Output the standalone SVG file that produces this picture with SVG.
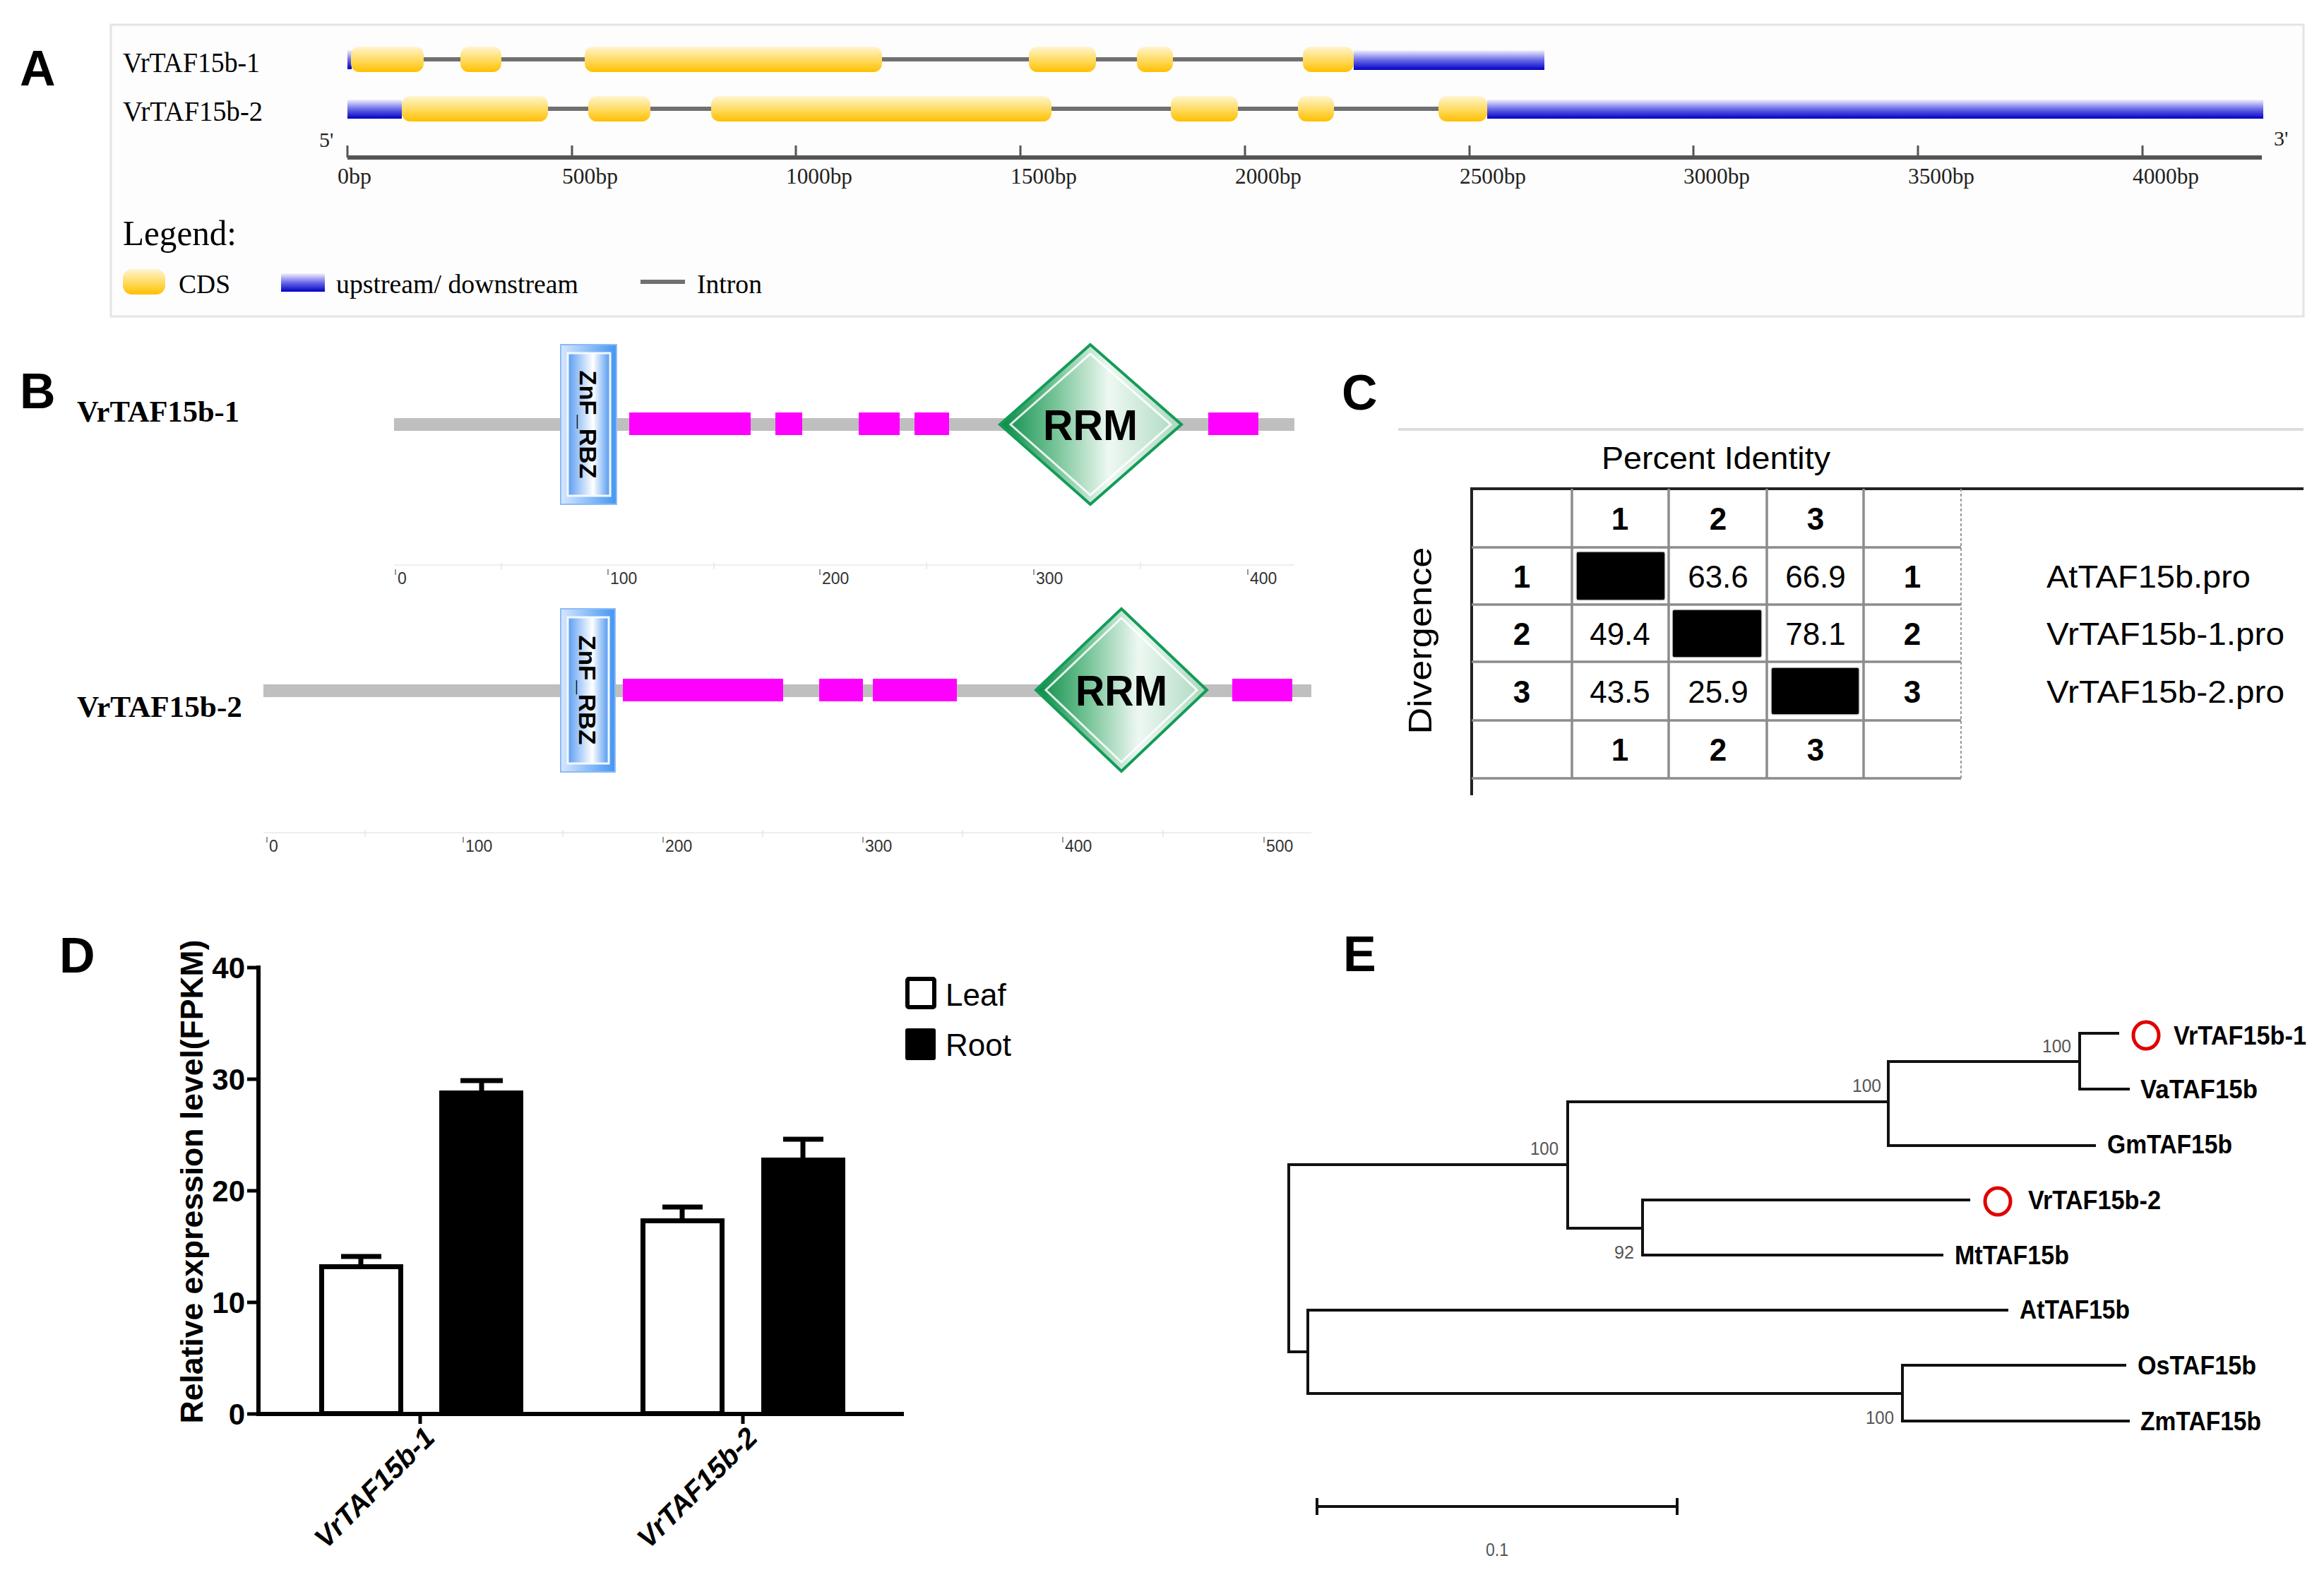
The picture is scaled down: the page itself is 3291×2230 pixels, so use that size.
<svg xmlns="http://www.w3.org/2000/svg" width="3291" height="2230" viewBox="0 0 3291 2230">
<defs>
  <linearGradient id="cds" x1="0" y1="0" x2="0" y2="1">
    <stop offset="0" stop-color="#fff5d0"/>
    <stop offset="0.55" stop-color="#ffda5c"/>
    <stop offset="1" stop-color="#ffbf00"/>
  </linearGradient>
  <linearGradient id="utr" x1="0" y1="0" x2="0" y2="1">
    <stop offset="0" stop-color="#f2f2ff"/>
    <stop offset="0.5" stop-color="#6a6ae8"/>
    <stop offset="1" stop-color="#0000c4"/>
  </linearGradient>
  <linearGradient id="znfOuter" x1="0" y1="0" x2="1" y2="0">
    <stop offset="0" stop-color="#d6e7ff"/>
    <stop offset="1" stop-color="#4596f2"/>
  </linearGradient>
  <linearGradient id="znfInner" x1="0" y1="0" x2="1" y2="0">
    <stop offset="0" stop-color="#5a9df2"/>
    <stop offset="0.6" stop-color="#ffffff"/>
    <stop offset="1" stop-color="#5098f0"/>
  </linearGradient>
  <linearGradient id="rrm" x1="0" y1="0.5" x2="1" y2="0.5">
    <stop offset="0" stop-color="#078a45"/>
    <stop offset="0.3" stop-color="#74c396"/>
    <stop offset="0.6" stop-color="#eef8f2"/>
    <stop offset="1" stop-color="#a9d8bd"/>
  </linearGradient>
  <style>
    .sans{font-family:"Liberation Sans",Arial,sans-serif}
    .ser{font-family:"Liberation Serif","Times New Roman",serif}
    .plab{font-family:"Liberation Sans",Arial,sans-serif;font-weight:bold;font-size:70px;fill:#000}
    .intron{stroke:#707070;stroke-width:6;fill:none}
    .axisA{stroke:#555;stroke-width:3;fill:none}
    .ticklabA{font-family:"Liberation Serif","Times New Roman",serif;font-size:32px;fill:#222}
    .bb{fill:#bfbfbf}
    .mag{fill:#ff00ff}
    .bscale{font-family:"Liberation Sans",Arial,sans-serif;font-size:23px;fill:#333}
    .btick{stroke:#777;stroke-width:1.5}
    .grid{stroke:#8c8c8c;stroke-width:3.5;fill:none}
    .cnum{font-family:"Liberation Sans",Arial,sans-serif;font-size:44px;text-anchor:middle;fill:#000}
    .blk{fill:#000;stroke:#ddd;stroke-width:1.5}
    .tree{stroke:#111;stroke-width:4;fill:none;stroke-linecap:square}
    .leaf{font-family:"Liberation Sans",Arial,sans-serif;font-weight:bold;font-size:37px;fill:#000}
    .boot{font-family:"Liberation Sans",Arial,sans-serif;font-size:26px;fill:#555}
    .ax{stroke:#000;stroke-width:6;fill:none}
    .bar{stroke:#000;stroke-width:7}
  </style>
</defs>
<rect width="3291" height="2230" fill="#fff"/>

<!-- Panel A -->
<g id="panelA">
  <rect x="157" y="35" width="3105" height="413" fill="#fdfdfd" stroke="#e4e4e4" stroke-width="3"/>
  <text class="plab" x="28" y="121">A</text>
  <g id="geneA1">
    <text class="ser" x="174" y="102" font-size="40" textLength="194" lengthAdjust="spacingAndGlyphs">VrTAF15b-1</text>
    <line class="intron" x1="497" y1="84" x2="1917" y2="84"/>
    <rect x="492" y="71" width="6" height="27" fill="url(#utr)"/>
    <rect x="497" y="66" width="103" height="36" rx="12" fill="url(#cds)"/>
    <rect x="652" y="66" width="58" height="36" rx="12" fill="url(#cds)"/>
    <rect x="828" y="66" width="421" height="36" rx="12" fill="url(#cds)"/>
    <rect x="1457" y="66" width="95" height="36" rx="12" fill="url(#cds)"/>
    <rect x="1610" y="66" width="51" height="36" rx="12" fill="url(#cds)"/>
    <rect x="1845" y="66" width="72" height="36" rx="12" fill="url(#cds)"/>
    <rect x="1917" y="71" width="270" height="28" fill="url(#utr)"/>
  </g>
  <g id="geneA2">
    <text class="ser" x="174" y="171" font-size="40" textLength="198" lengthAdjust="spacingAndGlyphs">VrTAF15b-2</text>
    <line class="intron" x1="569" y1="154" x2="2106" y2="154"/>
    <rect x="492" y="141" width="77" height="27" fill="url(#utr)"/>
    <rect x="569" y="136" width="207" height="36" rx="12" fill="url(#cds)"/>
    <rect x="833" y="136" width="88" height="36" rx="12" fill="url(#cds)"/>
    <rect x="1007" y="136" width="482" height="36" rx="12" fill="url(#cds)"/>
    <rect x="1658" y="136" width="95" height="36" rx="12" fill="url(#cds)"/>
    <rect x="1838" y="136" width="51" height="36" rx="12" fill="url(#cds)"/>
    <rect x="2037" y="136" width="69" height="36" rx="12" fill="url(#cds)"/>
    <rect x="2106" y="141" width="1099" height="27" fill="url(#utr)"/>
  </g>
  <g id="axisA">
    <line x1="492" y1="223" x2="3203" y2="223" stroke="#555" stroke-width="6"/>
    <path class="axisA" d="M492,206V223 M810,206V223 M1127,206V223 M1445,206V223 M1763,206V223 M2081,206V223 M2398,206V223 M2716,206V223 M3034,206V223"/>
    <text class="ticklabA" x="478" y="260" textLength="48" lengthAdjust="spacingAndGlyphs">0bp</text>
    <text class="ticklabA" x="796" y="260" textLength="79" lengthAdjust="spacingAndGlyphs">500bp</text>
    <text class="ticklabA" x="1113" y="260" textLength="94" lengthAdjust="spacingAndGlyphs">1000bp</text>
    <text class="ticklabA" x="1431" y="260" textLength="94" lengthAdjust="spacingAndGlyphs">1500bp</text>
    <text class="ticklabA" x="1749" y="260" textLength="94" lengthAdjust="spacingAndGlyphs">2000bp</text>
    <text class="ticklabA" x="2067" y="260" textLength="94" lengthAdjust="spacingAndGlyphs">2500bp</text>
    <text class="ticklabA" x="2384" y="260" textLength="94" lengthAdjust="spacingAndGlyphs">3000bp</text>
    <text class="ticklabA" x="2702" y="260" textLength="94" lengthAdjust="spacingAndGlyphs">3500bp</text>
    <text class="ticklabA" x="3020" y="260" textLength="94" lengthAdjust="spacingAndGlyphs">4000bp</text>
    <text class="ser" x="452" y="208" font-size="30" fill="#222">5'</text>
    <text class="ser" x="3220" y="206" font-size="30" fill="#222">3'</text>
  </g>
  <g id="legendA">
    <text class="ser" x="174" y="347" font-size="50" textLength="161" lengthAdjust="spacingAndGlyphs">Legend:</text>
    <rect x="174" y="381" width="60" height="36" rx="13" fill="url(#cds)"/>
    <text class="ser" x="253" y="415" font-size="38" textLength="73" lengthAdjust="spacingAndGlyphs">CDS</text>
    <rect x="398" y="387" width="62" height="26" fill="url(#utr)"/>
    <text class="ser" x="476" y="415" font-size="38" textLength="343" lengthAdjust="spacingAndGlyphs">upstream/ downstream</text>
    <line class="intron" x1="907" y1="399" x2="970" y2="399"/>
    <text class="ser" x="987" y="415" font-size="38" textLength="92" lengthAdjust="spacingAndGlyphs">Intron</text>
  </g>
</g>

<!-- Panel B -->
<g id="panelB">
  <text class="plab" x="28" y="578">B</text>
  <g id="protB1">
    <text class="ser" x="109" y="597" font-size="42" font-weight="bold" textLength="230" lengthAdjust="spacingAndGlyphs">VrTAF15b-1</text>
    <rect class="bb" x="558" y="592" width="1275" height="18"/>
    <rect class="mag" x="891" y="584" width="172" height="32"/>
    <rect class="mag" x="1098" y="584" width="38" height="32"/>
    <rect class="mag" x="1216" y="584" width="58" height="32"/>
    <rect class="mag" x="1295" y="584" width="49" height="32"/>
    <rect class="mag" x="1711" y="584" width="71" height="32"/>
    <g id="znf1">
      <rect x="794" y="488" width="79" height="226" fill="url(#znfOuter)" stroke="#8dbbf5" stroke-width="2"/>
      <rect x="804" y="500" width="60" height="202" fill="url(#znfInner)" stroke="#f4f8ff" stroke-width="3"/>
      <text class="sans" transform="translate(833,601) rotate(90)" text-anchor="middle" dominant-baseline="central" font-size="34" font-weight="bold" textLength="153" lengthAdjust="spacingAndGlyphs">ZnF_RBZ</text>
    </g>
    <g id="rrm1">
      <polygon points="1544,488 1673,601 1544,714 1416,601" fill="url(#rrm)" stroke="#139c58" stroke-width="4"/>
      <polygon points="1544,501 1658,601 1544,701 1431,601" fill="none" stroke="#ffffff" stroke-width="3" opacity="0.85"/>
      <text class="sans" x="1544" y="623" text-anchor="middle" font-size="62" font-weight="bold" textLength="134" lengthAdjust="spacingAndGlyphs">RRM</text>
    </g>
    <g id="scaleB1">
      <line x1="558" y1="800" x2="1833" y2="800" stroke="#eeeeee" stroke-width="2"/>
      <path class="btick" d="M560,806V814 M861,806V814 M1161,806V814 M1464,806V814 M1767,806V814"/>
      <path stroke="#e6e6e6" stroke-width="1.5" d="M710,796V806 M1011,796V806 M1312,796V806 M1615,796V806"/>
      <text class="bscale" x="563" y="827">0</text>
      <text class="bscale" x="864" y="827">100</text>
      <text class="bscale" x="1164" y="827">200</text>
      <text class="bscale" x="1467" y="827">300</text>
      <text class="bscale" x="1770" y="827">400</text>
    </g>
  </g>
  <g id="protB2">
    <text class="ser" x="109" y="1015" font-size="42" font-weight="bold" textLength="234" lengthAdjust="spacingAndGlyphs">VrTAF15b-2</text>
    <rect class="bb" x="373" y="969" width="1484" height="18"/>
    <rect class="mag" x="882" y="961" width="227" height="32"/>
    <rect class="mag" x="1160" y="961" width="62" height="32"/>
    <rect class="mag" x="1236" y="961" width="119" height="32"/>
    <rect class="mag" x="1745" y="961" width="85" height="32"/>
    <g id="znf2">
      <rect x="794" y="862" width="77" height="231" fill="url(#znfOuter)" stroke="#8dbbf5" stroke-width="2"/>
      <rect x="804" y="874" width="58" height="207" fill="url(#znfInner)" stroke="#f4f8ff" stroke-width="3"/>
      <text class="sans" transform="translate(832,977) rotate(90)" text-anchor="middle" dominant-baseline="central" font-size="34" font-weight="bold" textLength="155" lengthAdjust="spacingAndGlyphs">ZnF_RBZ</text>
    </g>
    <g id="rrm2">
      <polygon points="1588,862 1709,977 1588,1092 1467,977" fill="url(#rrm)" stroke="#139c58" stroke-width="4"/>
      <polygon points="1588,875 1695,977 1588,1079 1481,977" fill="none" stroke="#ffffff" stroke-width="3" opacity="0.85"/>
      <text class="sans" x="1588" y="999" text-anchor="middle" font-size="62" font-weight="bold" textLength="130" lengthAdjust="spacingAndGlyphs">RRM</text>
    </g>
    <g id="scaleB2">
      <line x1="373" y1="1179" x2="1857" y2="1179" stroke="#eeeeee" stroke-width="2"/>
      <path class="btick" d="M378,1185V1193 M656,1185V1193 M939,1185V1193 M1222,1185V1193 M1505,1185V1193 M1790,1185V1193"/>
      <path stroke="#e6e6e6" stroke-width="1.5" d="M517,1175V1185 M797,1175V1185 M1080,1175V1185 M1363,1175V1185 M1647,1175V1185"/>
      <text class="bscale" x="381" y="1206">0</text>
      <text class="bscale" x="659" y="1206">100</text>
      <text class="bscale" x="942" y="1206">200</text>
      <text class="bscale" x="1225" y="1206">300</text>
      <text class="bscale" x="1508" y="1206">400</text>
      <text class="bscale" x="1793" y="1206">500</text>
    </g>
  </g>
</g>

<!-- Panel C -->
<g id="panelC">
  <text class="plab" x="1900" y="580">C</text>
  <line x1="1980" y1="608" x2="3262" y2="608" stroke="#dddddd" stroke-width="4"/>
  <text class="sans" x="2268" y="664" font-size="45" textLength="324" lengthAdjust="spacingAndGlyphs">Percent Identity</text>
  <line x1="2082" y1="692" x2="3262" y2="692" stroke="#222" stroke-width="4"/>
  <line x1="2084" y1="690" x2="2084" y2="1126" stroke="#222" stroke-width="4"/>
  <path class="grid" d="M2084,775H2777 M2084,856H2777 M2084,937H2777 M2084,1020H2777 M2084,1102H2777"/>
  <path class="grid" stroke-width="3" d="M2226,692V1102 M2363,692V1102 M2502,692V1102 M2639,692V1102"/>
  <line x1="2777" y1="692" x2="2777" y2="1102" stroke="#999" stroke-width="2" stroke-dasharray="4 3"/>
  <rect class="blk" x="2232" y="781" width="126" height="69" rx="3"/>
  <rect class="blk" x="2368" y="863" width="127" height="68" rx="3"/>
  <rect class="blk" x="2508" y="945" width="125" height="67" rx="3"/>
  <g font-weight="bold">
    <text class="cnum" x="2294" y="750">1</text>
    <text class="cnum" x="2433" y="750">2</text>
    <text class="cnum" x="2571" y="750">3</text>
    <text class="cnum" x="2155" y="832">1</text>
    <text class="cnum" x="2155" y="913">2</text>
    <text class="cnum" x="2155" y="995">3</text>
    <text class="cnum" x="2708" y="832">1</text>
    <text class="cnum" x="2708" y="913">2</text>
    <text class="cnum" x="2708" y="995">3</text>
    <text class="cnum" x="2294" y="1077">1</text>
    <text class="cnum" x="2433" y="1077">2</text>
    <text class="cnum" x="2571" y="1077">3</text>
  </g>
  <text class="cnum" x="2433" y="832">63.6</text>
  <text class="cnum" x="2571" y="832">66.9</text>
  <text class="cnum" x="2294" y="913">49.4</text>
  <text class="cnum" x="2571" y="913">78.1</text>
  <text class="cnum" x="2294" y="995">43.5</text>
  <text class="cnum" x="2433" y="995">25.9</text>
  <text class="sans" x="2898" y="832" font-size="45" textLength="289" lengthAdjust="spacingAndGlyphs">AtTAF15b.pro</text>
  <text class="sans" x="2898" y="913" font-size="45" textLength="337" lengthAdjust="spacingAndGlyphs">VrTAF15b-1.pro</text>
  <text class="sans" x="2898" y="995" font-size="45" textLength="337" lengthAdjust="spacingAndGlyphs">VrTAF15b-2.pro</text>
  <text class="sans" transform="translate(2027,907) rotate(-90)" text-anchor="middle" font-size="46" textLength="265" lengthAdjust="spacingAndGlyphs">Divergence</text>
</g>

<!-- Panel D -->
<g id="panelD">
  <text class="plab" x="84" y="1377" font-size="62">D</text>
  <g id="axesD">
    <line class="ax" x1="366" y1="1367" x2="366" y2="2005"/>
    <line class="ax" x1="363" y1="2002" x2="1280" y2="2002"/>
    <path stroke="#000" stroke-width="5" d="M350,1370H366 M350,1528H366 M350,1686H366 M350,1844H366 M350,2002H366 M595,2002V2016 M1052,2002V2016"/>
    <g class="sans" font-weight="bold" font-size="42" text-anchor="end">
      <text x="347" y="1385">40</text>
      <text x="347" y="1543">30</text>
      <text x="347" y="1701">20</text>
      <text x="347" y="1859">10</text>
      <text x="347" y="2017">0</text>
    </g>
    <text class="sans" transform="translate(287,1673) rotate(-90)" text-anchor="middle" font-size="44" font-weight="bold" textLength="685" lengthAdjust="spacingAndGlyphs">Relative expression level(FPKM)</text>
    <text class="sans" transform="translate(618,2038) rotate(-45)" text-anchor="end" font-size="40" font-weight="bold" font-style="italic">VrTAF15b-1</text>
    <text class="sans" transform="translate(1075,2038) rotate(-45)" text-anchor="end" font-size="40" font-weight="bold" font-style="italic">VrTAF15b-2</text>
  </g>
  <g id="barsD">
    <path class="bar" d="M511,1793V1779 M483,1779H540 M682,1547V1530 M652,1530H712 M966,1728V1709 M938,1709H995 M1137,1642V1613 M1109,1613H1166"/>
    <rect class="bar" x="455.5" y="1793.5" width="112" height="208" fill="#fff"/>
    <rect class="bar" x="625.5" y="1547.5" width="112" height="454" fill="#000"/>
    <rect class="bar" x="910.5" y="1728.5" width="112" height="273" fill="#fff"/>
    <rect class="bar" x="1081.5" y="1642.5" width="112" height="359" fill="#000"/>
  </g>
  <g id="legendD">
    <rect x="1285" y="1386" width="38" height="40" fill="#fff" stroke="#000" stroke-width="6" rx="2"/>
    <text class="sans" x="1339" y="1424" font-size="44">Leaf</text>
    <rect x="1282" y="1456" width="43" height="45" fill="#000" rx="3"/>
    <text class="sans" x="1339" y="1495" font-size="44">Root</text>
  </g>
</g>

<!-- Panel E -->
<g id="panelE">
  <text class="plab" x="1902" y="1375">E</text>
  <g id="treeEdges">
    <path class="tree" d="M1825,1649V1914 M1825,1649H2220 M1825,1914H1852 M1852,1855V1973 M1852,1855H2842 M1852,1973H2694 M2694,1933V2012 M2694,1933H3009 M2694,2012H3014 M2220,1560V1739 M2220,1560H2674 M2220,1739H2326 M2326,1699V1777 M2326,1699H2788 M2326,1777H2750 M2674,1503V1622 M2674,1503H2945 M2674,1622H2966 M2945,1463V1542 M2945,1463H2999 M2945,1542H3014"/>
  </g>
  <g id="bootstrap">
    <text class="boot" x="2892" y="1490" textLength="41" lengthAdjust="spacingAndGlyphs">100</text>
    <text class="boot" x="2623" y="1546" textLength="41" lengthAdjust="spacingAndGlyphs">100</text>
    <text class="boot" x="2167" y="1635" textLength="40" lengthAdjust="spacingAndGlyphs">100</text>
    <text class="boot" x="2286" y="1782" textLength="28" lengthAdjust="spacingAndGlyphs">92</text>
    <text class="boot" x="2642" y="2016" textLength="40" lengthAdjust="spacingAndGlyphs">100</text>
  </g>
  <g id="taxa">
    <ellipse cx="3039" cy="1466" rx="18" ry="19" fill="none" stroke="#e00000" stroke-width="5"/>
    <ellipse cx="2829" cy="1701" rx="18" ry="19" fill="none" stroke="#e00000" stroke-width="5"/>
    <text class="leaf" x="3078" y="1479" textLength="188" lengthAdjust="spacingAndGlyphs">VrTAF15b-1</text>
    <text class="leaf" x="3031" y="1555" textLength="166" lengthAdjust="spacingAndGlyphs">VaTAF15b</text>
    <text class="leaf" x="2984" y="1633" textLength="177" lengthAdjust="spacingAndGlyphs">GmTAF15b</text>
    <text class="leaf" x="2872" y="1712" textLength="188" lengthAdjust="spacingAndGlyphs">VrTAF15b-2</text>
    <text class="leaf" x="2768" y="1790" textLength="162" lengthAdjust="spacingAndGlyphs">MtTAF15b</text>
    <text class="leaf" x="2860" y="1867" textLength="156" lengthAdjust="spacingAndGlyphs">AtTAF15b</text>
    <text class="leaf" x="3027" y="1946" textLength="168" lengthAdjust="spacingAndGlyphs">OsTAF15b</text>
    <text class="leaf" x="3031" y="2025" textLength="171" lengthAdjust="spacingAndGlyphs">ZmTAF15b</text>
  </g>
  <g id="scaleE">
    <path stroke="#111" stroke-width="4" fill="none" d="M1865,2133H2375 M1865,2121V2145 M2375,2121V2145"/>
    <text class="boot" x="2104" y="2203" textLength="32" lengthAdjust="spacingAndGlyphs">0.1</text>
  </g>
</g>
</svg>
